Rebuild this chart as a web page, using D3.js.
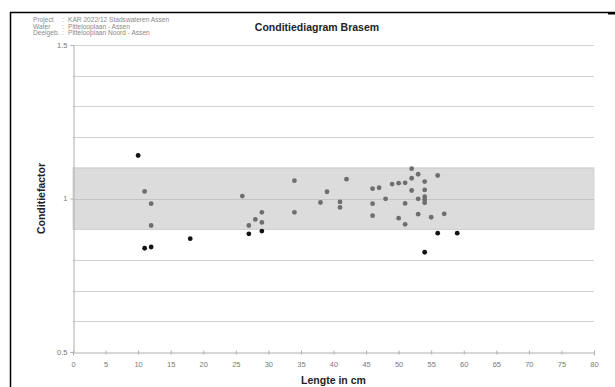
<!DOCTYPE html>
<html>
<head>
<meta charset="utf-8">
<script src="https://cdn.jsdelivr.net/npm/d3@7"></script>
<style>
  html, body { margin: 0; padding: 0; background: #fff; }
  svg { display: block; font-family: Arial, "Liberation Sans", sans-serif; }
</style>
</head>
<body>
<svg id="chart" width="615" height="387"></svg>
<script>
// Header information
const headerLabels = ["Project", "Water", "Deelgeb."];
const headerValues = ["KAR 2022/12 Stadswateren Assen", "Pittelooplaan - Assen", "Pittelooplaan Noord - Assen"];
const chartTitle = "Conditiediagram Brasem";
const xTitle = "Lengte in cm";
const yTitle = "Conditiefactor";

// Axis ticks
const xTicks = [0, 5, 10, 15, 20, 25, 30, 35, 40, 45, 50, 55, 60, 65, 70, 75, 80];
const yTickLabels = [0.5, 1, 1.5];
const yGrid = [0.6, 0.7, 0.8, 0.9, 1.0, 1.1, 1.2, 1.3, 1.4, 1.5];

// Normal condition band
const bandLow = 0.9;
const bandHigh = 1.1;

// Measured fish: length (cm) and condition factor
const lengths = [10, 11, 12, 11, 12, 12, 18, 26, 29, 28, 29, 27, 27, 29,
                 34, 34, 38, 39, 41, 41, 42, 46, 47, 46, 46, 48, 49, 50, 51,
                 52, 53, 52, 54, 52, 54, 56, 51, 53, 54, 54, 54, 53, 50, 51,
                 55, 57, 56, 59, 54];
const factors = [1.140, 1.023, 0.983, 0.838, 0.912, 0.842, 0.869, 1.008, 0.955, 0.932, 0.922, 0.912, 0.885, 0.894,
                 1.058, 0.955, 0.987, 1.022, 0.989, 0.971, 1.063, 1.032, 1.035, 0.983, 0.944, 0.999, 1.047, 1.050, 1.051,
                 1.097, 1.079, 1.066, 1.055, 1.026, 1.028, 1.075, 0.984, 0.999, 1.006, 0.996, 0.986, 0.949, 0.936, 0.916,
                 0.939, 0.950, 0.887, 0.887, 0.825];

const svg = d3.select("#chart");
const plot = { left: 73, right: 594, top: 45, bottom: 352 };

const x = d3.scaleLinear().domain([0, 80]).range([plot.left, plot.right]);
const y = d3.scaleLinear().domain([0.5, 1.5]).range([plot.bottom, plot.top]);

// Page frame
svg.append("line").attr("x1", 10).attr("x2", 615).attr("y1", 12.5).attr("y2", 12.5)
  .attr("stroke", "#000").attr("stroke-width", 1.5);
svg.append("line").attr("x1", 10.5).attr("x2", 10.5).attr("y1", 12).attr("y2", 387)
  .attr("stroke", "#000").attr("stroke-width", 1.5);
svg.append("rect").attr("x", 608).attr("y", 12).attr("width", 7).attr("height", 2.5).attr("fill", "#000");

// Header block
const header = svg.append("g").attr("font-size", 6.6).attr("fill", "#8a8a8a");
headerLabels.forEach((lab, i) => {
  header.append("text").attr("x", 33).attr("y", 22 + i * 6.5).text(lab);
  header.append("text").attr("x", 62).attr("y", 22 + i * 6.5).text(":");
  header.append("text").attr("x", 68).attr("y", 22 + i * 6.5).text(headerValues[i]);
});

// Title
svg.append("text").attr("x", 317).attr("y", 31).attr("text-anchor", "middle")
  .attr("font-size", 10.5).attr("font-weight", "bold").attr("fill", "#222").text(chartTitle);

// Condition band
svg.append("rect")
  .attr("x", x(0)).attr("width", x(80) - x(0))
  .attr("y", y(bandHigh)).attr("height", y(bandLow) - y(bandHigh))
  .attr("fill", "#dcdcdc").attr("stroke", "#cfcfcf").attr("stroke-width", 0.8);

// Horizontal gridlines
svg.append("g").selectAll("line").data(yGrid).join("line")
  .attr("x1", x(0)).attr("x2", x(80))
  .attr("y1", d => Math.round(y(d)) + 0.5).attr("y2", d => Math.round(y(d)) + 0.5)
  .attr("stroke", d => d === 1.0 ? "#c4c4c4" : "#d2d2d2")
  .attr("stroke-width", 1);

// X axis
const xAxis = svg.append("g").attr("transform", `translate(0,${plot.bottom + 0.5})`)
  .call(d3.axisBottom(x).tickValues(xTicks).tickSize(3).tickPadding(6).tickFormat(d3.format("d")));
xAxis.select(".domain").attr("stroke", "#b0b0b0");
xAxis.selectAll(".tick line").attr("stroke", "#b0b0b0").attr("y1", -2).attr("y2", 2);
xAxis.selectAll("text").attr("fill", "#7a7a7a").attr("font-size", 7.5).attr("font-family", "Arial, 'Liberation Sans', sans-serif");

// Y axis
const yAxis = svg.append("g").attr("transform", `translate(${plot.left + 0.5},0)`)
  .call(d3.axisLeft(y).tickValues(yTickLabels).tickSize(3).tickPadding(3).tickFormat(d3.format("")));
yAxis.select(".domain").attr("stroke", "#b0b0b0");
yAxis.selectAll(".tick line").attr("stroke", "#b0b0b0");
yAxis.selectAll("text").attr("fill", "#7a7a7a").attr("font-size", 7.5).attr("font-family", "Arial, 'Liberation Sans', sans-serif");

// Axis titles
svg.append("text").attr("x", (plot.left + plot.right) / 2).attr("y", 384).attr("text-anchor", "middle")
  .attr("font-size", 10.5).attr("font-weight", "bold").attr("fill", "#222").text(xTitle);
svg.append("text").attr("transform", `translate(45,${y(1)}) rotate(-90)`).attr("text-anchor", "middle")
  .attr("font-size", 10.5).attr("font-weight", "bold").attr("fill", "#222").text(yTitle);

// Fish points: grey inside the normal band, black outside it
const points = lengths.map((l, i) => ({ l, k: factors[i] }));
svg.append("g").selectAll("circle").data(points).join("circle")
  .attr("cx", d => x(d.l)).attr("cy", d => y(d.k)).attr("r", 2.4)
  .attr("fill", d => (d.k < bandLow || d.k > bandHigh) ? "#141414" : "#6e6e6e");
</script>
</body>
</html>
